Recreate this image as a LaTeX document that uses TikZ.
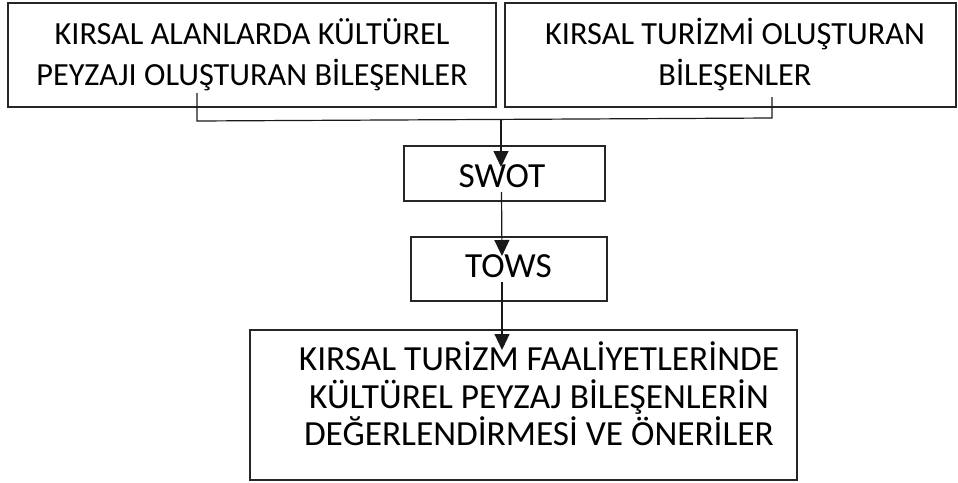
\documentclass[tikz,border=0pt]{standalone}
\usepackage{fontspec}
\setmainfont{Carlito}
\usetikzlibrary{arrows.meta}
\begin{document}
\begin{tikzpicture}[x=1pt,y=-1pt,
  box/.style={draw=black!85,line width=1.5pt,rectangle,inner sep=0pt},
  toptxt/.style={align=center,font=\fontsize{32.3}{41}\selectfont},
  midtxt/.style={align=center,font=\fontsize{35.3}{37.5}\selectfont},
  conn/.style={line width=1.2pt,draw=black!90},
  arr/.style={conn,arrows={-{Triangle[width=15pt,length=16pt]}}}]
\useasboundingbox (0,0) rectangle (958,482);
% boxes
\node[box,minimum width=488pt,minimum height=104pt] (b1) at (252,55) {};
\node[toptxt] (t1) at (252,55) {KIRSAL ALANLARDA KÜLTÜREL\\PEYZAJI OLUŞTURAN BİLEŞENLER};
\node[box,minimum width=451pt,minimum height=104pt] (b2) at (730.5,55) {};
\node[toptxt] (t2) at (735,55) {KIRSAL TURİZMİ OLUŞTURAN\\BİLEŞENLER};
\node[box,minimum width=201pt,minimum height=55pt] (swot) at (504.5,173.5) {};
\node[midtxt] (swott) at (502,176) {SWOT};
\node[box,minimum width=196pt,minimum height=64pt] (tows) at (509,269) {};
\node[midtxt] (towst) at (508.5,266) {TOWS};
\node[box,minimum width=547pt,minimum height=150pt] (final) at (523.5,405) {};
\node[midtxt] (finalt) at (539,394) {KIRSAL TURİZM FAALİYETLERİNDE\\KÜLTÜREL PEYZAJ BİLEŞENLERİN\\DEĞERLENDİRMESİ VE ÖNERİLER};
% connector points
\coordinate (l1) at (197,93);
\coordinate (l2) at (197,121);
\coordinate (r1) at (772,97);
\coordinate (r2) at (772,118);
\coordinate (m) at (501,120);
\coordinate (swottip) at (501,167);
\coordinate (swotout) at (501.5,192);
\coordinate (towstip) at (502,256);
\coordinate (towsout) at (502,282);
\coordinate (finaltip) at (502,350);
\draw[conn] (l1) -- (l2) -- (r2) -- (r1);
\draw[arr] (m) -- (swottip);
\draw[arr] (swotout) -- (towstip);
\draw[arr] (towsout) -- (finaltip);
\end{tikzpicture}
\end{document}
